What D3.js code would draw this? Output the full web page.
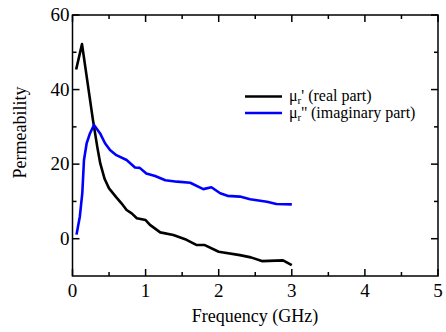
<!DOCTYPE html>
<html><head><meta charset="utf-8">
<script src="https://cdn.jsdelivr.net/npm/d3@7"></script>
</head><body>
<script>
const realFreq = [0.05,0.13,0.28,0.34,0.38,0.44,0.5,0.6,0.67,0.74,0.81,0.88,1.0,1.06,1.2,1.38,1.56,1.70,1.81,2.0,2.29,2.44,2.59,2.88,3.0];
const realVals = [45.4,52.2,31.8,24.5,20.2,16.0,13.5,11.1,9.5,7.7,6.8,5.5,5.0,3.7,1.7,1.0,-0.3,-1.7,-1.7,-3.5,-4.4,-5.0,-6.0,-5.8,-7.1];
const imagFreq = [0.055,0.10,0.134,0.157,0.194,0.24,0.294,0.376,0.445,0.513,0.60,0.74,0.855,0.92,1.01,1.13,1.27,1.43,1.61,1.79,1.90,2.02,2.12,2.29,2.43,2.66,2.79,3.0];
const imagVals = [1.1,5.9,12.2,21.1,25.6,28.3,30.5,28.3,25.6,23.8,22.4,21.1,19.1,19.0,17.5,16.8,15.7,15.3,15.0,13.3,13.8,12.2,11.5,11.3,10.6,9.9,9.3,9.2];
const xMajor = [0,1,2,3,4,5];
const xMinor = [0.5,1.5,2.5,3.5,4.5];
const yMajor = [0,20,40,60];
const yMinor = [10,30,50];
const legendLabels = [["'"," (real part)"],["''"," (imaginary part)"]];
const colors = ["#000000","#0000ff"];
const FONT = "Times New Roman";

document.body.style.margin="0";
const W=446,H=332, L=72.5, R=438, T=15, B=276;
const svg=d3.select("body").append("svg").attr("width",W).attr("height",H);
const x=d3.scaleLinear().domain([0,5]).range([L,R]);
const y=d3.scaleLinear().domain([-10,60]).range([B,T]);

const ax=svg.append("g").attr("stroke","#000").attr("stroke-width",1.5);
ax.append("rect").attr("x",L).attr("y",T).attr("width",R-L).attr("height",B-T).attr("fill","none");
const mj=7, mn=4;
xMajor.forEach(v=>{ax.append("line").attr("x1",x(v)).attr("x2",x(v)).attr("y1",B).attr("y2",B-mj);
  ax.append("line").attr("x1",x(v)).attr("x2",x(v)).attr("y1",T).attr("y2",T+mj);});
xMinor.forEach(v=>{ax.append("line").attr("x1",x(v)).attr("x2",x(v)).attr("y1",B).attr("y2",B-mn);
  ax.append("line").attr("x1",x(v)).attr("x2",x(v)).attr("y1",T).attr("y2",T+mn);});
yMajor.forEach(v=>{ax.append("line").attr("y1",y(v)).attr("y2",y(v)).attr("x1",L).attr("x2",L+mj);
  ax.append("line").attr("y1",y(v)).attr("y2",y(v)).attr("x1",R).attr("x2",R-mj);});
yMinor.forEach(v=>{ax.append("line").attr("y1",y(v)).attr("y2",y(v)).attr("x1",L).attr("x2",L+mn);
  ax.append("line").attr("y1",y(v)).attr("y2",y(v)).attr("x1",R).attr("x2",R-mn);});

svg.selectAll(".xl").data(xMajor).enter().append("text").attr("font-family",FONT).attr("font-size",19)
  .attr("x",d=>x(d)).attr("y",297).attr("text-anchor","middle").text(d=>d);
svg.selectAll(".yl").data(yMajor).enter().append("text").attr("font-family",FONT).attr("font-size",19)
  .attr("x",L-3).attr("y",d=>y(d)+6).attr("text-anchor","end").text(d=>d);

svg.append("text").attr("font-family",FONT).attr("font-size",18).attr("x",255).attr("y",322).attr("text-anchor","middle").text("Frequency (GHz)");
svg.append("text").attr("font-family",FONT).attr("font-size",18).attr("transform","translate(26,132.5) rotate(-90)").attr("text-anchor","middle").text("Permeability");

const line=d3.line().x(d=>x(d[0])).y(d=>y(d[1]));
const series=[d3.zip(realFreq,realVals), d3.zip(imagFreq,imagVals)];
series.forEach((s,i)=>svg.append("path").datum(s).attr("d",line).attr("fill","none")
  .attr("stroke",colors[i]).attr("stroke-width",2.6).attr("stroke-linejoin","round"));

legendLabels.forEach((lab,i)=>{
  const yy=96.5+i*16.5;
  svg.append("line").attr("x1",245).attr("x2",282).attr("y1",yy).attr("y2",yy).attr("stroke",colors[i]).attr("stroke-width",2.6);
  const t=svg.append("text").attr("font-family",FONT).attr("font-size",16).attr("x",289).attr("y",yy+4.5);
  t.append("tspan").text("μ");
  t.append("tspan").attr("font-size",11).attr("dy",3).text("r");
  t.append("tspan").attr("dy",-3).text(lab[0]+lab[1]);
});
</script>
</body></html>
